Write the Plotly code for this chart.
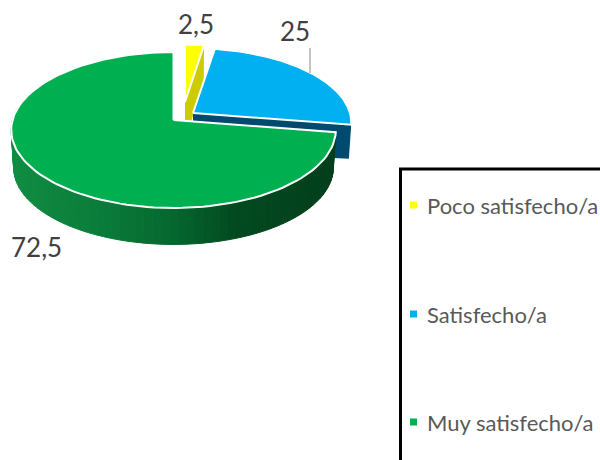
import math
import plotly.graph_objects as go

# ---- data ----
categories = ["Poco satisfecho/a", "Satisfecho/a", "Muy satisfecho/a"]
values = [2.5, 25, 72.5]

# ---- styling / projection of each exploded slice ----
top_colors = ["#FFFF00", "#00B0F0", "#00B050"]
wall_colors = ["#CCCC00", "#004A70", "#024A20"]
apex_x = [185, 193, 173.5]
apex_y = [102, 113, 120]
scale_x = [137, 157, 161]
scale_y = [65, 73, 76.7]
label_x = [196, 295, 36]
label_y = [24, 31, 247]
legend_y = [205, 314, 422]
TILT = 0.128
DEPTH = 38
BOTTOM_SCALE = 0.985
wall_stops = [(12, (16, 140, 66)), (100, (10, 124, 58)), (170, (5, 104, 47)),
              (235, (2, 74, 32)), (336, (3, 62, 27))]


def project(i, deg, radius=1.0):
    a = math.radians(deg)
    X, Y = radius * math.sin(a), radius * math.cos(a)
    w = 1 + TILT * Y
    return apex_x[i] + scale_x[i] * X / w, apex_y[i] - scale_y[i] * Y / w


def wall_color(x):
    for (x0, c0), (x1, c1) in zip(wall_stops, wall_stops[1:]):
        if x <= x1:
            t = max(0, (x - x0) / (x1 - x0))
            return "rgb(%d,%d,%d)" % tuple(round(p + (q - p) * t) for p, q in zip(c0, c1))
    return "rgb(%d,%d,%d)" % wall_stops[-1][1]


def poly(fig, pts, fill, line=None, width=0):
    xs = [p[0] for p in pts] + [pts[0][0]]
    ys = [p[1] for p in pts] + [pts[0][1]]
    fig.add_trace(go.Scatter(
        x=xs, y=ys, mode="lines", fill="toself", fillcolor=fill,
        line=dict(color=line or fill, width=width), hoverinfo="skip", showlegend=False))


fig = go.Figure()

# slice angles come from the values, clockwise from 12 o'clock
total = sum(values)
starts, ends = [], []
acc = 0
for v in values:
    starts.append(acc * 360 / total)
    acc += v
    ends.append(acc * 360 / total)

for i in range(len(values)):
    s, e = starts[i], ends[i]
    arc = [project(i, s + (e - s) * n / 120) for n in range(121)]
    apex = (apex_x[i], apex_y[i])
    if i < 2:
        # radial cut face at the end of the slice
        end_pt = arc[-1]
        low = (apex_x[i] + (end_pt[0] - apex_x[i]) * BOTTOM_SCALE,
               apex_y[i] + (end_pt[1] - apex_y[i]) * BOTTOM_SCALE + DEPTH * (0.9 if i else 1))
        poly(fig, [apex, end_pt, low, (apex[0], apex[1] + DEPTH)], wall_colors[i])
    else:
        # curved outer wall, shaded segment by segment
        stop = min(e, 285)
        n_seg = 70
        for n in range(n_seg):
            d0 = s + (stop - s) * n / n_seg
            d1 = s + (stop - s) * (n + 1) / n_seg
            a0, a1 = project(i, d0), project(i, d1)
            b0 = project(i, d0, BOTTOM_SCALE)
            b1 = project(i, d1, BOTTOM_SCALE)
            col = wall_color((a0[0] + a1[0]) / 2)
            poly(fig, [a0, a1, (b1[0], b1[1] + DEPTH), (b0[0], b0[1] + DEPTH)], col, col, 1)
    poly(fig, [apex] + arc, top_colors[i], "#FFFFFF", 2)

# leader line of the middle label
lead_x = 310
fig.add_trace(go.Scatter(x=[lead_x, lead_x], y=[48, 73], mode="lines",
                         line=dict(color="#A6A6A6", width=1.3), hoverinfo="skip", showlegend=False))

# legend markers
fig.add_trace(go.Scatter(
    x=[413.5] * 3, y=legend_y, mode="markers",
    marker=dict(symbol="square", size=7, color=top_colors, line=dict(width=0)),
    hoverinfo="skip", showlegend=False))

annotations = []
for i, v in enumerate(values):
    annotations.append(dict(x=label_x[i], y=label_y[i], text=f"{v:g}".replace(".", ","),
                            showarrow=False, font=dict(family="Lato", size=26, color="#404040")))
    annotations.append(dict(x=424.5, y=legend_y[i], text=categories[i], xanchor="left",
                            showarrow=False, font=dict(family="Lato", size=22, color="#595959")))

fig.update_layout(
    width=600, height=460, margin=dict(l=0, r=0, t=0, b=0),
    paper_bgcolor="white", plot_bgcolor="white", showlegend=False,
    xaxis=dict(range=[0, 600], visible=False, fixedrange=True),
    yaxis=dict(range=[460, 0], visible=False, fixedrange=True),
    annotations=annotations,
    shapes=[dict(type="rect", x0=400.5, y0=169, x1=640, y1=500,
                 line=dict(color="#000000", width=3), fillcolor="rgba(0,0,0,0)")],
)

fig.write_html("out.html", config={"displayModeBar": False},
               post_script="document.body.style.margin='0';document.body.style.overflow='hidden';")
